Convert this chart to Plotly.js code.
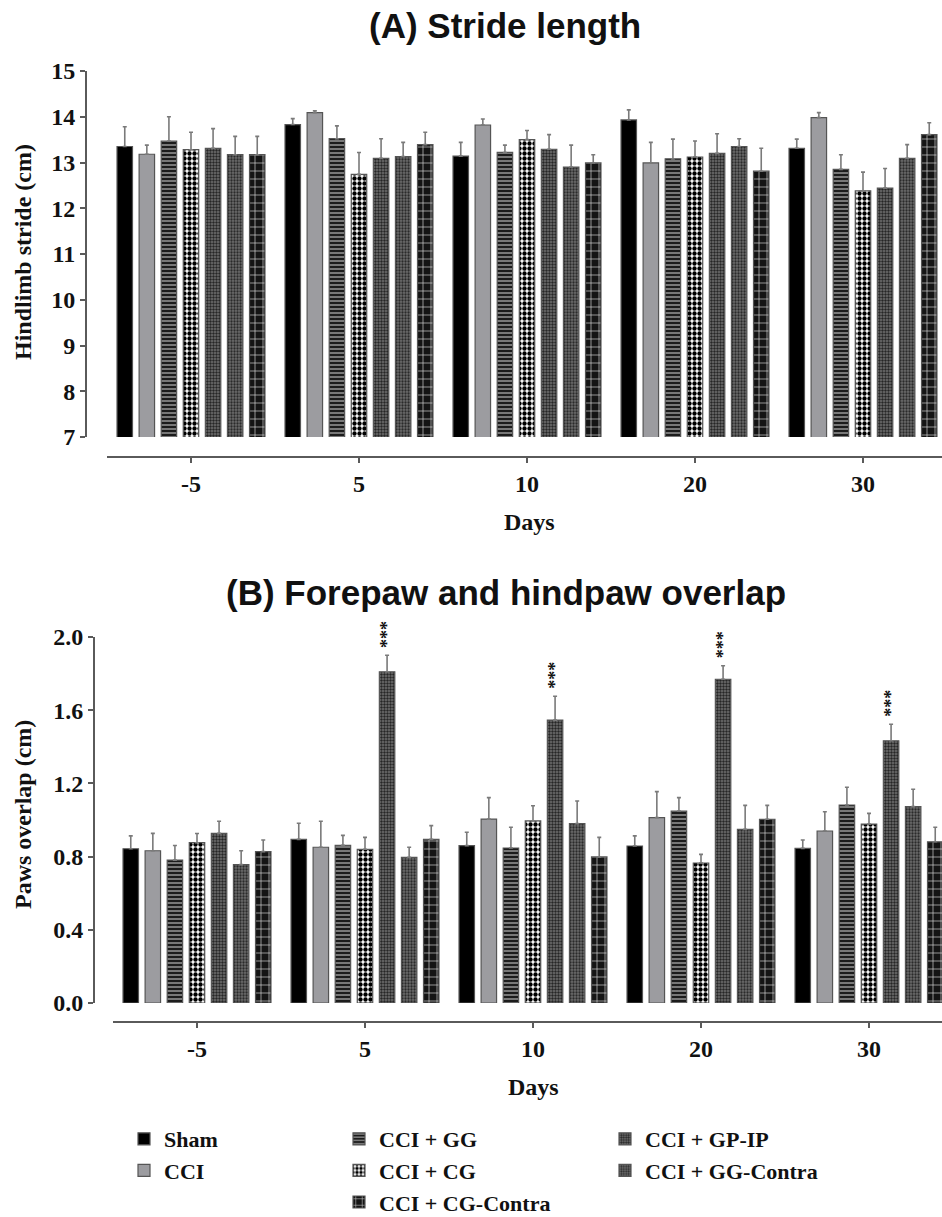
<!DOCTYPE html>
<html><head><meta charset="utf-8">
<script src="https://cdn.plot.ly/plotly-3.0.1.min.js"></script>
<style>html,body{margin:0;padding:0;background:#fff;overflow:hidden}</style>
</head><body><div id="chart" style="width:942px;height:1217px"></div>
<script>
// ---- data ----
const days = ['-5', '5', '10', '20', '30'];
const groups = ['Sham', 'CCI', 'CCI + GG', 'CCI + CG', 'CCI + GP-IP', 'CCI + GG-Contra', 'CCI + CG-Contra'];

// (A) Stride length (cm), mean and SEM
const strideSham      = [13.35, 13.83, 13.14, 13.93, 13.31];
const strideCCI       = [13.18, 14.09, 13.82, 12.99, 13.98];
const strideGG        = [13.47, 13.52, 13.22, 13.08, 12.85];
const strideCG        = [13.28, 12.74, 13.50, 13.12, 12.38];
const strideGPIP      = [13.31, 13.09, 13.29, 13.20, 12.44];
const strideGGContra  = [13.17, 13.13, 12.90, 13.35, 13.09];
const strideCGContra  = [13.17, 13.39, 12.99, 12.81, 13.61];
const strideErrSham     = [0.43, 0.13, 0.30, 0.22, 0.20];
const strideErrCCI      = [0.20, 0.04, 0.13, 0.45, 0.11];
const strideErrGG       = [0.53, 0.28, 0.16, 0.43, 0.32];
const strideErrCG       = [0.38, 0.48, 0.20, 0.35, 0.41];
const strideErrGPIP     = [0.43, 0.43, 0.32, 0.43, 0.43];
const strideErrGGContra = [0.40, 0.31, 0.48, 0.17, 0.30];
const strideErrCGContra = [0.40, 0.27, 0.18, 0.50, 0.26];

// (B) Forepaw and hindpaw overlap (cm), mean and SEM
const overlapSham     = [0.843, 0.894, 0.860, 0.858, 0.845];
const overlapCCI      = [0.832, 0.851, 1.005, 1.013, 0.940];
const overlapGG       = [0.781, 0.862, 0.847, 1.049, 1.082];
const overlapCG       = [0.876, 0.840, 0.995, 0.765, 0.978];
const overlapGPIP     = [0.927, 1.810, 1.546, 1.769, 1.433];
const overlapGGContra = [0.756, 0.796, 0.980, 0.949, 1.073];
const overlapCGContra = [0.827, 0.894, 0.798, 1.004, 0.881];
const overlapErrSham     = [0.070, 0.088, 0.073, 0.055, 0.046];
const overlapErrCCI      = [0.095, 0.142, 0.117, 0.142, 0.105];
const overlapErrGG       = [0.080, 0.054, 0.113, 0.073, 0.097];
const overlapErrCG       = [0.050, 0.065, 0.083, 0.047, 0.058];
const overlapErrGPIP     = [0.066, 0.090, 0.130, 0.074, 0.090];
const overlapErrGGContra = [0.076, 0.055, 0.124, 0.131, 0.095];
const overlapErrCGContra = [0.064, 0.075, 0.107, 0.076, 0.079];
const overlapSigGPIP = ['', '***', '***', '***', '***'];

const strideTicks = [7, 8, 9, 10, 11, 12, 13, 14, 15];
const overlapTicks = [0, 0.4, 0.8, 1.2, 1.6, 2.0];

// ---- styles ----
const W = 942, H = 1217;
const serif = 'Liberation Serif, Times New Roman, serif';
const sans = 'Liberation Sans, Arial, sans-serif';
const axisCol = '#5a5a5a';
const styles = [
  {color: '#000000'},
  {color: '#9c9ca0'},
  {color: '#1c1c1c', pattern: {shape: '-', bgcolor: '#1c1c1c', fgcolor: '#a0a0a0', size: 4, solidity: 0.35}},
  {color: '#ffffff', pattern: {shape: '.', bgcolor: '#ffffff', fgcolor: '#000000', size: 5, solidity: 0.6}},
  {color: '#6e6e6e', pattern: {shape: '.', bgcolor: '#727272', fgcolor: '#262626', size: 3, solidity: 0.5}},
  {color: '#6a6a6a', pattern: {shape: '.', bgcolor: '#6c6c6c', fgcolor: '#2a2a2a', size: 3, solidity: 0.45}},
  {color: '#121212', pattern: {shape: '+', bgcolor: '#141414', fgcolor: '#e2e2e2', size: 8, solidity: 0.15}}
];
const legendOf = ['legend', 'legend', 'legend2', 'legend2', 'legend3', 'legend3', 'legend2'];

const strideVals = [strideSham, strideCCI, strideGG, strideCG, strideGPIP, strideGGContra, strideCGContra];
const strideErrs = [strideErrSham, strideErrCCI, strideErrGG, strideErrCG, strideErrGPIP, strideErrGGContra, strideErrCGContra];
const overlapVals = [overlapSham, overlapCCI, overlapGG, overlapCG, overlapGPIP, overlapGGContra, overlapCGContra];
const overlapErrs = [overlapErrSham, overlapErrCCI, overlapErrGG, overlapErrCG, overlapErrGPIP, overlapErrGGContra, overlapErrCGContra];

function barTrace(i, vals, errs, xa, ya, show) {
  const m = {color: styles[i].color, line: {color: '#555555', width: 1.2}};
  if (styles[i].pattern) m.pattern = Object.assign({fillmode: 'replace'}, styles[i].pattern);
  return {
    type: 'bar', name: groups[i], x: days, y: vals, xaxis: xa, yaxis: ya,
    marker: m, showlegend: show, legend: legendOf[i], legendgroup: groups[i],
    error_y: {type: 'data', symmetric: false, array: errs, arrayminus: errs.map(() => 0),
              color: '#7a7a7a', thickness: 1.6, width: 2},
    hoverinfo: 'name+y'
  };
}

const traces = [];
for (let i = 0; i < groups.length; i++) traces.push(barTrace(i, strideVals[i], strideErrs[i], 'x', 'y', true));
for (let i = 0; i < groups.length; i++) traces.push(barTrace(i, overlapVals[i], overlapErrs[i], 'x2', 'y2', false));

const px = v => v / W;
const py = v => 1 - v / H;

const bargap = 0.08;
const slot = (1 - bargap) / groups.length;

const tickFont = {family: serif, size: 24, color: '#111', weight: 'bold'};
function xAxis(domLeft, rangeEnd, posPx) {
  return {type: 'category', categoryorder: 'array', categoryarray: days,
    domain: [px(domLeft), 1], range: [-0.5, rangeEnd], anchor: 'free', position: py(posPx),
    showline: true, linecolor: axisCol, linewidth: 2, ticks: 'outside', ticklen: 5, tickwidth: 2,
    tickcolor: axisCol, tickfont: tickFont, showgrid: false, zeroline: false, fixedrange: true, automargin: false};
}
function yAxis(top, bottom, range, tickvals, fmt, posPx) {
  return {domain: [py(bottom), py(top)], range: range, anchor: 'free', position: px(posPx),
    showline: true, linecolor: axisCol, linewidth: 2, ticks: 'outside', ticklen: 5, tickwidth: 2,
    tickcolor: axisCol, tickvals: tickvals, tickformat: fmt, tickfont: tickFont,
    showgrid: false, zeroline: false, fixedrange: true, automargin: false};
}

function label(text, x, y, size, family, angle) {
  return {text: text, x: px(x), y: py(y), xref: 'paper', yref: 'paper', xanchor: 'center', yanchor: 'middle',
    showarrow: false, textangle: angle || 0, font: {family: family, size: size, color: '#111', weight: 'bold'}};
}
const annotations = [
  label('(A) Stride length', 505, 25, 35, sans),
  label('(B) Forepaw and hindpaw overlap', 506, 593, 35, sans),
  label('Hindlimb stride (cm)', 23, 252, 24, serif, -90),
  label('Paws overlap (cm)', 23, 815, 24, serif, -90),
  label('Days', 529, 522, 24, serif),
  label('Days', 533, 1087, 24, serif)
];
const gpIdx = groups.indexOf('CCI + GP-IP');
overlapSigGPIP.forEach((s, j) => {
  if (!s) return;
  annotations.push({text: s, xref: 'x2', yref: 'y2', x: j + (gpIdx - (groups.length - 1) / 2) * slot,
    xanchor: 'center', y: overlapGPIP[j] + overlapErrGPIP[j], yanchor: 'bottom', yshift: 5,
    showarrow: false, textangle: -90,
    font: {family: serif, size: 18, color: '#111', weight: 'bold'}});
});

const legFont = {family: serif, size: 22, color: '#111', weight: 'bold'};
const legBase = {orientation: 'v', xanchor: 'left', yanchor: 'top', font: legFont, bgcolor: 'rgba(0,0,0,0)',
                 borderwidth: 0, traceorder: 'normal', itemclick: false, itemdoubleclick: false};

const layout = {
  width: W, height: H, margin: {l: 0, r: 0, t: 0, b: 0, autoexpand: false},
  paper_bgcolor: '#fff', plot_bgcolor: 'rgba(0,0,0,0)',
  barmode: 'group', bargap: bargap, bargroupgap: 0.3,
  xaxis: xAxis(107, (W - 191) / 168, 457),
  yaxis: yAxis(71, 437, [7, 15], strideTicks, 'd', 86),
  xaxis2: xAxis(113, (W - 197) / 168, 1022),
  yaxis2: yAxis(637, 1003, [0, 2], overlapTicks, '.1f', 94),
  annotations: annotations,
  legend: Object.assign({x: px(124), y: py(1118)}, legBase),
  legend2: Object.assign({x: px(339), y: py(1118)}, legBase),
  legend3: Object.assign({x: px(605), y: py(1118)}, legBase),
  showlegend: true
};

Plotly.newPlot('chart', traces, layout, {displayModeBar: false, staticPlot: true});
</script>
</body></html>
